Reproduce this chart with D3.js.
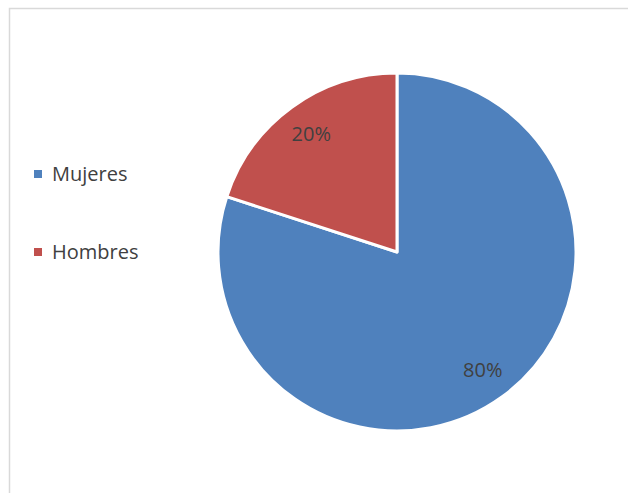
<!DOCTYPE html>
<html>
<head>
<meta charset="utf-8">
<script src="https://cdn.jsdelivr.net/npm/d3@7"></script>
<style>
  body { margin: 0; background: #fff; }
  text { font-family: "Open Sans", "Liberation Sans", sans-serif; fill: #404040; }
</style>
</head>
<body>
<div id="chart"></div>
<script>
// data
const categories = ["Mujeres", "Hombres"];
const values = [80, 20];
const colors = ["#4F81BD", "#C0504D"];

const width = 628, height = 493;
const cx = 397, cy = 252, radius = 179;

const svg = d3.select("#chart").append("svg")
    .attr("width", width)
    .attr("height", height);

// chart frame (runs off right and bottom)
svg.append("rect")
    .attr("x", 9.5).attr("y", 8.5)
    .attr("width", width + 20).attr("height", height + 20)
    .attr("fill", "none")
    .attr("stroke", "#d9d9d9")
    .attr("stroke-width", 1.5);

const color = d3.scaleOrdinal().domain(categories).range(colors);

const pie = d3.pie().sort(null).value(d => d.value);
const arcs = pie(categories.map((c, i) => ({ name: c, value: values[i] })));

const arc = d3.arc().innerRadius(0).outerRadius(radius);
const labelArc = d3.arc().innerRadius(radius * 0.815).outerRadius(radius * 0.815);

const g = svg.append("g").attr("transform", `translate(${cx},${cy})`);

g.selectAll("path")
    .data(arcs)
    .enter().append("path")
    .attr("d", arc)
    .attr("fill", d => color(d.data.name))
    .attr("stroke", "#fff")
    .attr("stroke-width", 3)
    .attr("stroke-linejoin", "round");

const total = d3.sum(values);
g.selectAll("text.lbl")
    .data(arcs)
    .enter().append("text")
    .attr("class", "lbl")
    .attr("transform", d => `translate(${labelArc.centroid(d)})`)
    .attr("text-anchor", "middle")
    .attr("dy", "0.35em")
    .style("font-size", "20px")
    .text(d => Math.round(d.data.value / total * 100) + "%");

// legend
const legend = svg.append("g").selectAll("g")
    .data(categories)
    .enter().append("g")
    .attr("transform", (d, i) => `translate(34, ${174 + i * 78})`);

legend.append("rect")
    .attr("x", 0).attr("y", -4)
    .attr("width", 8).attr("height", 8)
    .attr("fill", d => color(d));

legend.append("text")
    .attr("x", 18)
    .attr("dy", "0.35em")
    .style("font-size", "20px")
    .text(d => d);
</script>
</body>
</html>
